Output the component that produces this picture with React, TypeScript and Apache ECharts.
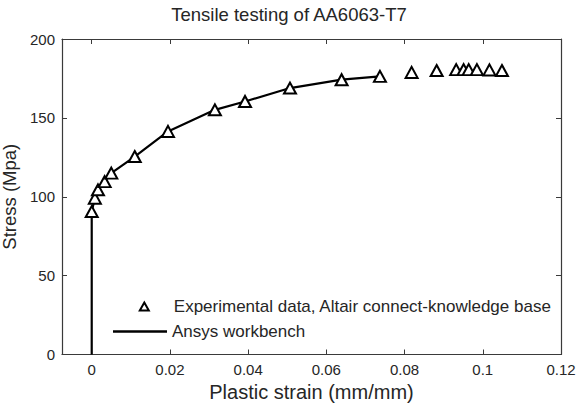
import React, { useEffect, useRef } from "react";
import * as echarts from "echarts";

// Experimental data (plastic strain, stress)
const expStrain = [0, 0.0008, 0.0016, 0.0033, 0.005, 0.011, 0.0195, 0.0315, 0.0392, 0.0507, 0.0639, 0.0737, 0.0818, 0.0882, 0.0932, 0.0951, 0.0964, 0.0985, 0.1017, 0.1049];
const expStress = [90.6, 99.1, 104.4, 109.6, 115, 125.5, 141.4, 155.1, 160.4, 168.9, 174.2, 176.3, 178.8, 180, 180.6, 180.6, 180.6, 180.6, 180.4, 180];

// Ansys workbench curve
const ansysStrain = [0, 0, 0.0008, 0.0016, 0.0033, 0.005, 0.011, 0.0195, 0.0315, 0.0392, 0.0507, 0.0639, 0.0737];
const ansysStress = [0, 90.6, 99.1, 104.4, 109.6, 115, 125.5, 141.4, 155.1, 160.4, 168.9, 174.2, 176.3];

const xMin = -0.0076;
const xMax = 0.12;
const yMin = 0;
const yMax = 200;
const yInterval = 50;

const FONT = "'Liberation Sans', Arial, sans-serif";
const TEXT = "#262626";
const AXIS = "#3a3a3a";

export default function App() {
  const ref = useRef<HTMLDivElement>(null);
  useEffect(() => {
    document.body.style.margin = "0";
    const chart = echarts.init(ref.current!, null, { renderer: "svg" });
    const axisLineStyle = { show: true, onZero: false, lineStyle: { color: AXIS, width: 1.2 } };
    const tick = { show: true, inside: true, length: 5, lineStyle: { color: AXIS, width: 1 } };
    chart.setOption({
      animation: false,
      backgroundColor: "#ffffff",
      textStyle: { fontFamily: FONT },
      title: {
        text: "Tensile testing of AA6063-T7",
        left: "center",
        top: 0,
        textStyle: { fontFamily: FONT, fontSize: 18.5, fontWeight: "normal", color: TEXT },
      },
      grid: { left: 62, right: 17, top: 39, bottom: 51.5, containLabel: false, outerBoundsMode: "none" },
      legend: [
        {
          data: [{ name: "Experimental data, Altair connect-knowledge base", icon: "triangle" }],
          left: 138.8,
          top: 298,
          padding: 0,
          itemWidth: 9,
          itemHeight: 8,
          itemStyle: { color: "#ffffff", borderColor: "#000000", borderWidth: 2 },
          textStyle: { fontFamily: FONT, fontSize: 17, color: TEXT, padding: [0, 0, 0, 20] },
        },
        {
          data: [{ name: "Ansys workbench", icon: "rect" }],
          left: 113,
          top: 323,
          padding: 0,
          itemWidth: 54,
          itemHeight: 2.4,
          itemStyle: { color: "#000000", borderWidth: 0 },
          textStyle: { fontFamily: FONT, fontSize: 17, color: TEXT },
        },
      ],
      xAxis: [
        {
          type: "value",
          min: xMin,
          max: xMax,
          splitNumber: 6,
          name: "Plastic strain (mm/mm)",
          nameLocation: "middle",
          nameGap: 27,
          nameTextStyle: { fontFamily: FONT, fontSize: 20, color: TEXT },
          axisLine: axisLineStyle,
          axisTick: tick,
          splitLine: { show: false },
          axisLabel: { show: true, showMinLabel: false, margin: 7, fontFamily: FONT, fontSize: 15, color: TEXT },
        },
        {
          type: "value",
          position: "top",
          min: xMin,
          max: xMax,
          splitNumber: 6,
          axisLine: axisLineStyle,
          axisTick: tick,
          splitLine: { show: false },
          axisLabel: { show: false },
        },
      ],
      yAxis: [
        {
          type: "value",
          min: yMin,
          max: yMax,
          interval: yInterval,
          name: "Stress (Mpa)",
          nameLocation: "middle",
          nameGap: 33,
          nameTextStyle: { fontFamily: FONT, fontSize: 18.5, color: TEXT },
          axisLine: axisLineStyle,
          axisTick: tick,
          splitLine: { show: false },
          axisLabel: { show: true, margin: 7, fontFamily: FONT, fontSize: 15, color: TEXT },
        },
        {
          type: "value",
          position: "right",
          min: yMin,
          max: yMax,
          interval: yInterval,
          axisLine: axisLineStyle,
          axisTick: tick,
          splitLine: { show: false },
          axisLabel: { show: false },
        },
      ],
      series: [
        {
          name: "Ansys workbench",
          type: "line",
          xAxisIndex: 0,
          yAxisIndex: 0,
          data: ansysStrain.map((x, i) => [x, ansysStress[i]]),
          symbol: "none",
          showSymbol: false,
          lineStyle: { color: "#000000", width: 2.2 },
          itemStyle: { color: "#000000" },
          z: 2,
        },
        {
          name: "Experimental data, Altair connect-knowledge base",
          type: "scatter",
          xAxisIndex: 0,
          yAxisIndex: 0,
          data: expStrain.map((x, i) => [x, expStress[i]]),
          symbol: "triangle",
          symbolSize: [12, 11],
          itemStyle: { color: "#ffffff", borderColor: "#000000", borderWidth: 2, opacity: 1 },
          z: 3,
        },
      ],
    });
    return () => chart.dispose();
  }, []);
  return <div ref={ref} style={{ position: "absolute", left: 0, top: 0, width: 578, height: 406 }} />;
}
